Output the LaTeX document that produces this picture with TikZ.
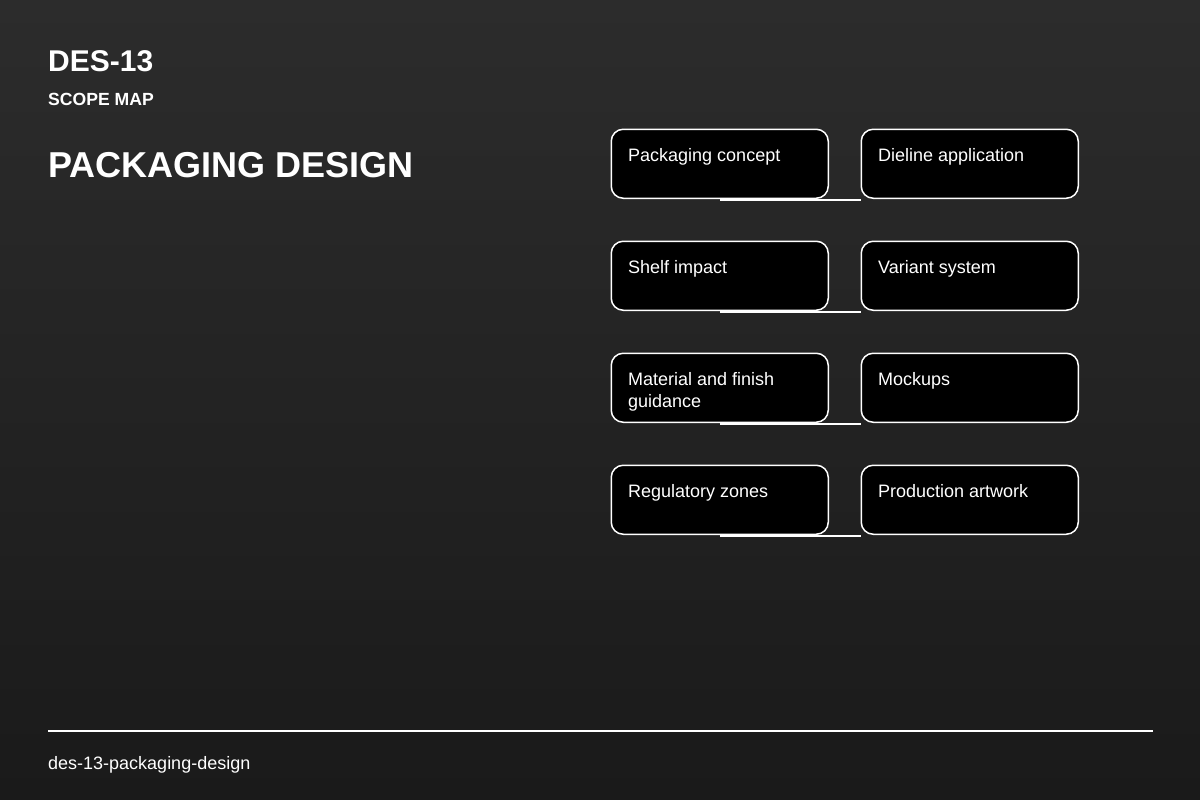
\documentclass[tikz,border=0pt]{standalone}
\usepackage{fontspec}
\setmainfont{Liberation Sans}
\newcommand{\cardlines}[1]{\parbox[t]{190pt}{\raggedright #1}}
\begin{document}
\begin{tikzpicture}[x=1pt,y=-1pt,
  card/.style={draw=white, line width=1.5pt, fill=black, rounded corners=12pt, minimum width=217pt, minimum height=69pt, inner sep=0pt, anchor=north west},
  cardtext/.style={anchor=base west, text=white, font=\fontsize{18}{22}\selectfont, inner sep=0pt},
  link/.style={draw=white, line width=1.5pt}
]
\shade[top color={rgb,255:red,44;green,44;blue,44}, bottom color={rgb,255:red,26;green,26;blue,26}] (0,0) rectangle (1200,800);
\useasboundingbox (0,0) rectangle (1200,800);
\node[anchor=base west, inner sep=0pt, text=white, font=\bfseries\fontsize{30}{34}\selectfont] (id) at (48,72) {DES-13};
\node[anchor=base west, inner sep=0pt, text=white, font=\bfseries\fontsize{17.6}{20}\selectfont] (sub) at (48,105) {SCOPE MAP};
\node[anchor=base west, inner sep=0pt, text=white, font=\bfseries\fontsize{36}{42}\selectfont] (title) at (48,177) {PACKAGING DESIGN};
\foreach \i/\ta/\tb in {0/{Packaging concept}/{Dieline application},1/{Shelf impact}/{Variant system},2/{Material and finish\\guidance}/{Mockups},3/{Regulatory zones}/{Production artwork}}{
  \node[card] (l\i) at (610.5,128.5+112*\i) {};
  \node[card] (r\i) at (860.5,128.5+112*\i) {};
  \node[cardtext] (lt\i) at ([shift={(17.5,32.5)}]l\i.north west) {\cardlines{\ta}};
  \node[cardtext] (rt\i) at ([shift={(17.5,32.5)}]r\i.north west) {\cardlines{\tb}};
  \draw[link] ([yshift=-0.8pt]l\i.south) -- ([yshift=-0.8pt]l\i.south -| r\i.west);
}
\coordinate (fl) at (48,731);
\coordinate (fr) at (1153,731);
\draw[white, line width=2pt] (fl) -- (fr);
\node[anchor=base west, inner sep=0pt, text=white, font=\fontsize{18}{20}\selectfont] (foot) at (48,769) {des-13-packaging-design};
\end{tikzpicture}
\end{document}
